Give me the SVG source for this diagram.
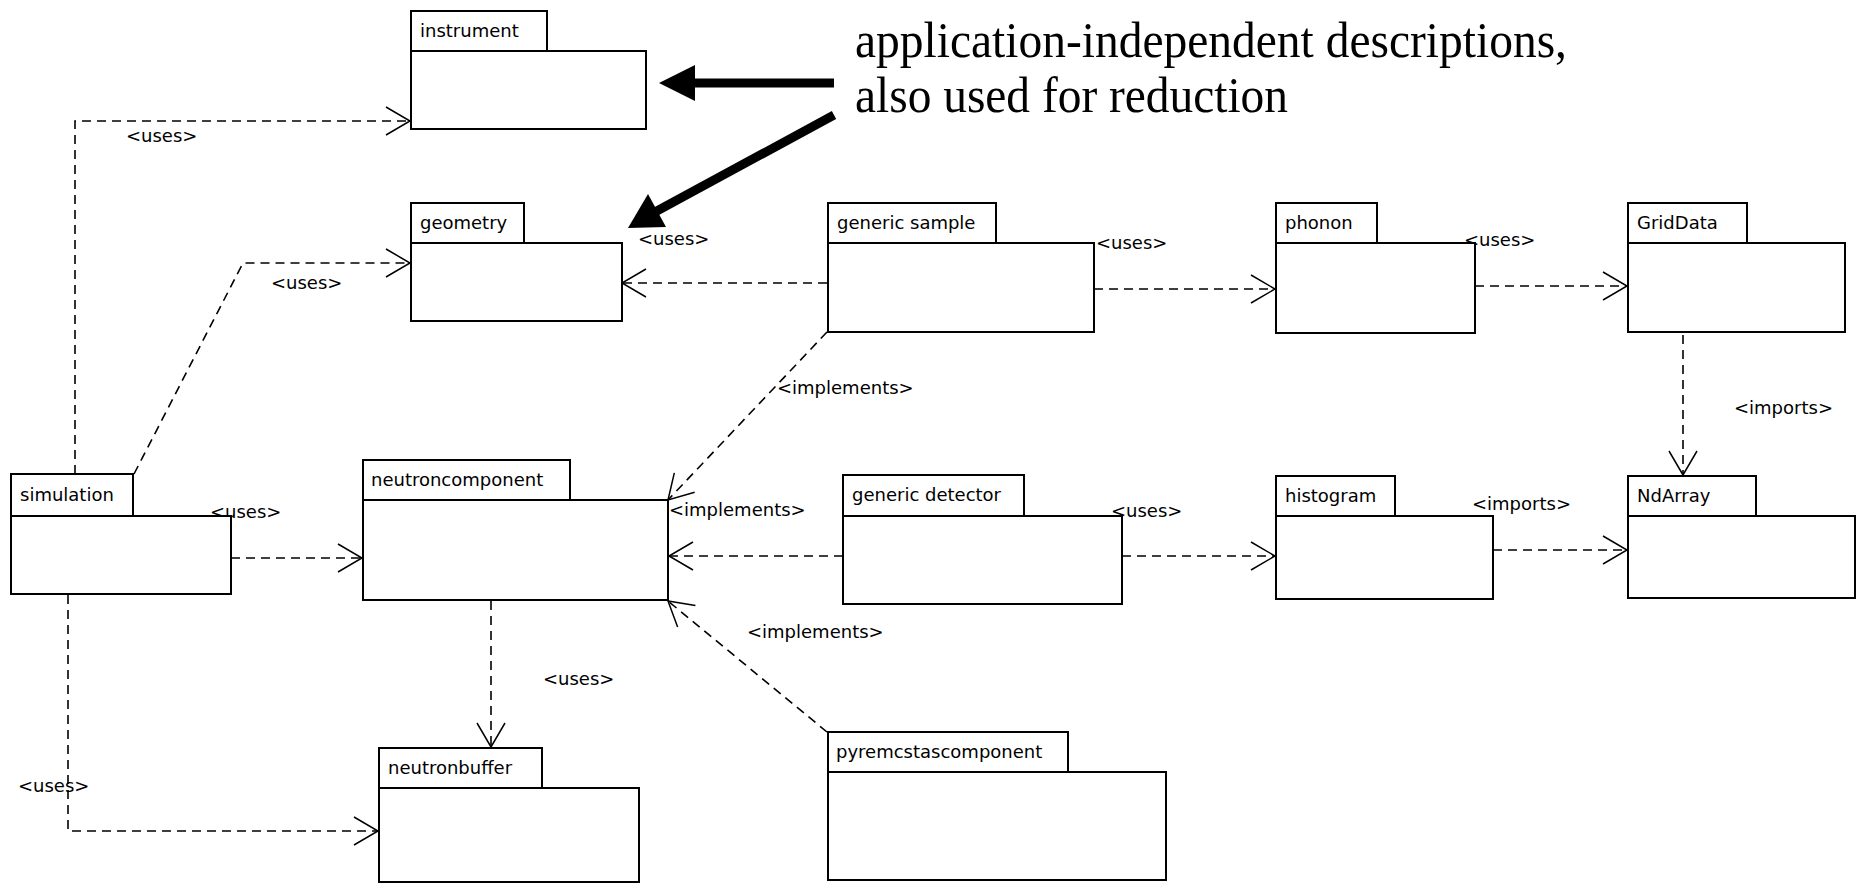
<svg xmlns="http://www.w3.org/2000/svg" width="1860" height="892" viewBox="0 0 1860 892">
<style>
.tab,.body{fill:#fff;stroke:#000;stroke-width:2}
.name{font-family:"DejaVu Sans",sans-serif;font-size:18px;fill:#000}
.lbl{font-family:"DejaVu Sans",sans-serif;font-size:18px;fill:#000}
.dep{fill:none;stroke:#000;stroke-width:1.6;stroke-dasharray:9 6;marker-end:url(#open)}
.note{font-family:"Liberation Serif","Times New Roman",serif;font-size:51px;fill:#000}
</style>
<defs>
<marker id="open" markerWidth="30" markerHeight="32" refX="26" refY="16" orient="auto" markerUnits="userSpaceOnUse" viewBox="0 0 30 32">
<path d="M2,2 L26,16 L2,30" fill="none" stroke="#000" stroke-width="1.5"/>
</marker>
</defs>
<rect width="1860" height="892" fill="#fff"/>

<g id="connectors">
<path class="dep" d="M75,474 V121 H410"/>
<text class="lbl" x="126" y="142">&lt;uses&gt;</text>
<path class="dep" d="M134,474 L243,263 H410"/>
<text class="lbl" x="271" y="289">&lt;uses&gt;</text>
<path class="dep" d="M231,558 H362"/>
<text class="lbl" x="210" y="518">&lt;uses&gt;</text>
<path class="dep" d="M68,595 V831 H378"/>
<text class="lbl" x="18" y="792">&lt;uses&gt;</text>
<path class="dep" d="M491,601 V747"/>
<text class="lbl" x="543" y="685">&lt;uses&gt;</text>
<path class="dep" d="M827,283 H622"/>
<text class="lbl" x="638" y="245">&lt;uses&gt;</text>
<path class="dep" d="M1094,289 H1275"/>
<text class="lbl" x="1096" y="249">&lt;uses&gt;</text>
<path class="dep" d="M1475,286 H1627"/>
<text class="lbl" x="1464" y="246">&lt;uses&gt;</text>
<path class="dep" d="M1683,335 V475"/>
<text class="lbl" x="1734" y="414">&lt;imports&gt;</text>
<path class="dep" d="M827,332 L668,500"/>
<text class="lbl" x="777" y="394">&lt;implements&gt;</text>
<path class="dep" d="M843,556 H669"/>
<text class="lbl" x="669" y="516">&lt;implements&gt;</text>
<path class="dep" d="M1122,556 H1275"/>
<text class="lbl" x="1111" y="517">&lt;uses&gt;</text>
<path class="dep" d="M1493,550 H1627"/>
<text class="lbl" x="1472" y="510">&lt;imports&gt;</text>
<path class="dep" d="M827,732 L668,601"/>
<text class="lbl" x="747" y="638">&lt;implements&gt;</text>
</g>

<g id="instrument">
<rect class="tab" x="411" y="11" width="136" height="40"/>
<rect class="body" x="411" y="51" width="235" height="78"/>
<text class="name" x="420" y="37">instrument</text>
</g>
<g id="geometry">
<rect class="tab" x="411" y="203" width="113" height="40"/>
<rect class="body" x="411" y="243" width="211" height="78"/>
<text class="name" x="420" y="229">geometry</text>
</g>
<g id="generic-sample">
<rect class="tab" x="828" y="203" width="168" height="40"/>
<rect class="body" x="828" y="243" width="266" height="89"/>
<text class="name" x="837" y="229">generic sample</text>
</g>
<g id="phonon">
<rect class="tab" x="1276" y="203" width="101" height="40"/>
<rect class="body" x="1276" y="243" width="199" height="90"/>
<text class="name" x="1285" y="229">phonon</text>
</g>
<g id="GridData">
<rect class="tab" x="1628" y="203" width="119" height="40"/>
<rect class="body" x="1628" y="243" width="217" height="89"/>
<text class="name" x="1637" y="229">GridData</text>
</g>
<g id="simulation">
<rect class="tab" x="11" y="474" width="122" height="42"/>
<rect class="body" x="11" y="516" width="220" height="78"/>
<text class="name" x="20" y="501">simulation</text>
</g>
<g id="neutroncomponent">
<rect class="tab" x="363" y="460" width="207" height="40"/>
<rect class="body" x="363" y="500" width="305" height="100"/>
<text class="name" x="371" y="486">neutroncomponent</text>
</g>
<g id="generic-detector">
<rect class="tab" x="843" y="475" width="181" height="41"/>
<rect class="body" x="843" y="516" width="279" height="88"/>
<text class="name" x="852" y="501">generic detector</text>
</g>
<g id="histogram">
<rect class="tab" x="1276" y="476" width="119" height="40"/>
<rect class="body" x="1276" y="516" width="217" height="83"/>
<text class="name" x="1285" y="502">histogram</text>
</g>
<g id="NdArray">
<rect class="tab" x="1628" y="476" width="128" height="40"/>
<rect class="body" x="1628" y="516" width="227" height="82"/>
<text class="name" x="1637" y="502">NdArray</text>
</g>
<g id="neutronbuffer">
<rect class="tab" x="379" y="748" width="163" height="40"/>
<rect class="body" x="379" y="788" width="260" height="94"/>
<text class="name" x="388" y="774">neutronbuffer</text>
</g>
<g id="pyremcstascomponent">
<rect class="tab" x="828" y="732" width="240" height="40"/>
<rect class="body" x="828" y="772" width="338" height="108"/>
<text class="name" x="836" y="758">pyremcstascomponent</text>
</g>

<g id="note">
<text class="note" x="855" y="57" textLength="712" lengthAdjust="spacingAndGlyphs">application-independent descriptions,</text>
<text class="note" x="855" y="112" textLength="433" lengthAdjust="spacingAndGlyphs">also used for reduction</text>
<line x1="834" y1="83" x2="690" y2="83" stroke="#000" stroke-width="9"/>
<polygon points="659,83 695,65 695,101" fill="#000"/>
<line x1="834" y1="115" x2="655" y2="212" stroke="#000" stroke-width="9"/>
<polygon points="628,228 648,194 666,227" fill="#000"/>
</g>
</svg>
